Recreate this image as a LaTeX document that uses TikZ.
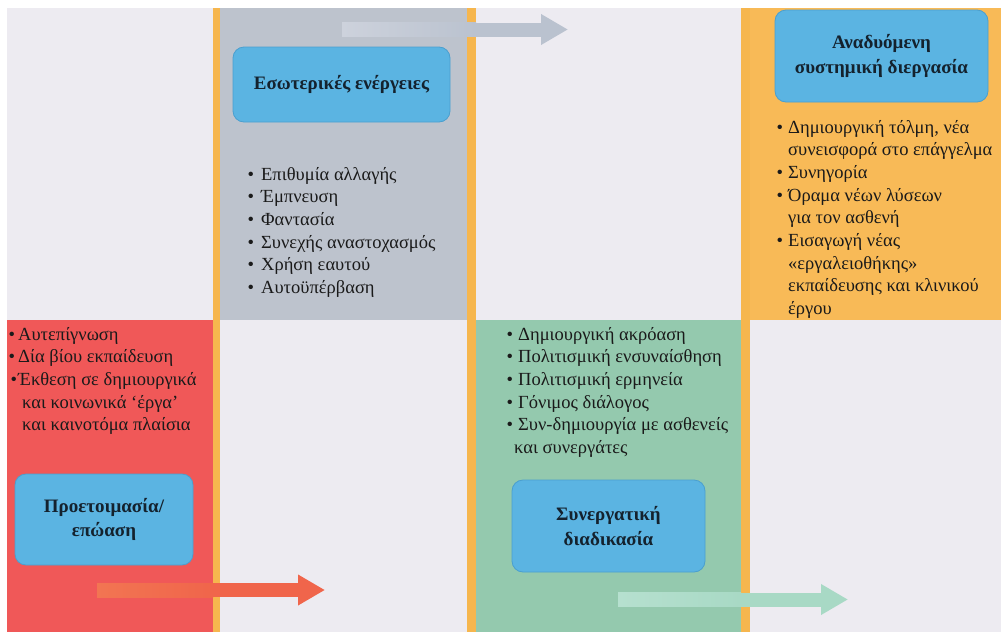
\documentclass[tikz,border=0pt]{standalone}
\usepackage{fontspec}
\setmainfont{Liberation Serif}
\usetikzlibrary{arrows.meta}
\definecolor{bgcol}{HTML}{EDEBF1}
\definecolor{redpanel}{HTML}{F05858}
\definecolor{greypanel}{HTML}{BDC3CD}
\definecolor{greenpanel}{HTML}{94C9AE}
\definecolor{orangepanel}{HTML}{F8BA57}
\definecolor{barcol}{HTML}{F6B64E}
\definecolor{boxblue}{HTML}{5BB4E2}
\definecolor{boxedge}{HTML}{4A9FCF}
\definecolor{titletext}{HTML}{14222E}
\definecolor{listtext}{HTML}{1A1A1A}
\definecolor{arrgrey}{HTML}{BAC2CF}
\definecolor{arrgreylight}{HTML}{CDD2DC}
\definecolor{arrred}{HTML}{F0654B}
\definecolor{arrredlight}{HTML}{F27552}
\definecolor{arrgreen}{HTML}{A8D9C5}
\definecolor{arrgreenlight}{HTML}{B6E0CF}
\newcommand{\bul}[1][5pt]{\llap{\textbullet\hspace{#1}}}
\begin{document}
\begin{tikzpicture}[x=1pt,y=-1pt,
  bar/.style={fill=barcol,draw=none},
  titlebox/.style={draw=boxedge,line width=0.8pt,fill=boxblue,rounded corners=11pt,
    inner sep=0pt,align=center,text=titletext,
    font=\fontsize{19}{24.5}\selectfont\bfseries},
  itemlist/.style={anchor=north west,align=left,inner sep=0pt,text=listtext,
    font=\fontsize{18.5}{22.7}\selectfont},
  bigarrow/.style={line width=14pt,-{Triangle[length=27pt,width=29pt]}}
]
\useasboundingbox (0,0) rectangle (1001,632);
\fill[white] (0,0) rectangle (1001,632);
\fill[bgcol] (7,8) rectangle (1001,632);
% panels
\fill[greypanel] (220,8) rectangle (467,320);
\fill[orangepanel] (741,8) rectangle (1001,320);
\fill[redpanel] (7,320) rectangle (213,632);
\fill[greenpanel] (476,320) rectangle (741,632);
% bars
\fill[bar] (213,8) rectangle (220,632);
\fill[bar] (467,8) rectangle (476,632);
\fill[bar] (741,8) rectangle (750,632);
% title boxes
\node[titlebox,minimum width=217pt,minimum height=75pt] (b1) at (341.5,84.5) {Εσωτερικές ενέργειες};
\node[titlebox,minimum width=213pt,minimum height=92pt] (b2) at (881.5,56) {Αναδυόμενη\\συστημική διεργασία};
\node[titlebox,minimum width=178pt,minimum height=91pt] (b3) at (104,519.5) {Προετοιμασία/\\επώαση};
\node[titlebox,minimum width=193pt,minimum height=92pt] (b4) at (608.5,526) {Συνεργατική\\διαδικασία};
% lists
\node[itemlist] (lgrey) at (261,164) {\strut\bul[7pt]Επιθυμία αλλαγής\\\bul[7pt]Έμπνευση\\\bul[7pt]Φαντασία\\\bul[7pt]Συνεχής αναστοχασμός\\\bul[7pt]Χρήση εαυτού\\\bul[7pt]Αυτοϋπέρβαση};
\node[itemlist] (lorange) at (788,117) {\strut\bul Δημιουργική τόλμη, νέα\\συνεισφορά στο επάγγελμα\\\bul Συνηγορία\\\bul Όραμα νέων λύσεων\\για τον ασθενή\\\bul Εισαγωγή νέας\\«εργαλειοθήκης»\\εκπαίδευσης και κλινικού\\έργου};
\node[itemlist] (lred) at (18,324) {\strut\bul[3pt]Αυτεπίγνωση\\\bul[3pt]Δία βίου εκπαίδευση\\\bul[1pt]Έκθεση σε δημιουργικά\\\hspace*{4pt}και κοινωνικά ‘έργα’\\\hspace*{4pt}και καινοτόμα πλαίσια};
\node[itemlist] (lgreen) at (518,324) {\strut\bul Δημιουργική ακρόαση\\\bul Πολιτισμική ενσυναίσθηση\\\bul Πολιτισμική ερμηνεία\\\bul Γόνιμος διάλογος\\\bul Συν-δημιουργία με ασθενείς\\\hspace*{-4pt}και συνεργάτες};
% arrows
\coordinate (ga) at (342,29.5);
\coordinate (gb) at (568,29.5);
\coordinate (ra) at (97,590);
\coordinate (rb) at (325,590);
\coordinate (ea) at (618,599.5);
\coordinate (eb) at (848,599.5);
\draw[bigarrow,arrgrey] (ga) -- (gb);
\draw[bigarrow,arrred] (ra) -- (rb);
\draw[bigarrow,arrgreen] (ea) -- (eb);
% lighter start of the shafts
\shade[left color=arrgreylight,right color=arrgrey] (342,22.5) rectangle (476,36.5);
\shade[left color=arrredlight,right color=arrred] (97,583) rectangle (213,597);
\shade[left color=arrgreenlight,right color=arrgreen] (618,592.5) rectangle (741,606.5);
\end{tikzpicture}
\end{document}
